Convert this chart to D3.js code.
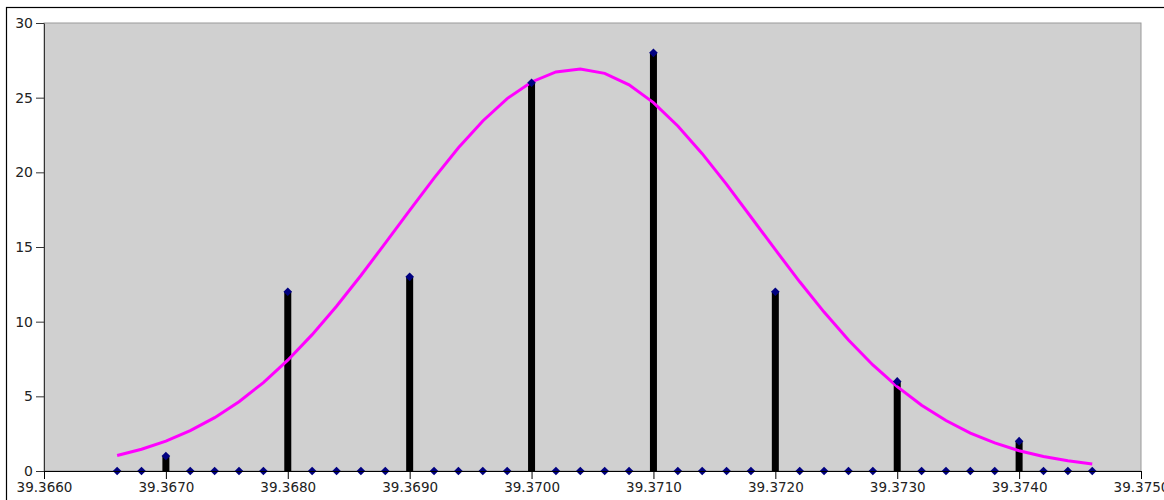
<!DOCTYPE html>
<html><head><meta charset="utf-8">
<script src="https://cdn.jsdelivr.net/npm/d3@7"></script>
<style>html,body{margin:0;padding:0;background:#fff;}svg{display:block;font-family:"DejaVu Sans",sans-serif;}</style>
</head><body><svg id="c" width="1164" height="500"></svg>
<script>
// Data
const xTicks = [39.3660,39.3670,39.3680,39.3690,39.3700,39.3710,39.3720,39.3730,39.3740,39.3750];
const yTicks = [0,5,10,15,20,25,30];
const binX = [39.3666,39.3668,39.3670,39.3672,39.3674,39.3676,39.3678,39.3680,39.3682,39.3684,39.3686,39.3688,39.3690,39.3692,39.3694,39.3696,39.3698,39.3700,39.3702,39.3704,39.3706,39.3708,39.3710,39.3712,39.3714,39.3716,39.3718,39.3720,39.3722,39.3724,39.3726,39.3728,39.3730,39.3732,39.3734,39.3736,39.3738,39.3740,39.3742,39.3744,39.3746];
const counts = [0,0,1,0,0,0,0,12,0,0,0,0,13,0,0,0,0,26,0,0,0,0,28,0,0,0,0,12,0,0,0,0,6,0,0,0,0,2,0,0,0];
const curve = [1.04,1.46,2.00,2.70,3.57,4.64,5.92,7.42,9.13,11.03,13.09,15.26,17.45,19.61,21.64,23.44,24.94,26.05,26.72,26.92,26.63,25.86,24.67,23.10,21.25,19.19,17.01,14.82,12.67,10.64,8.77,7.10,5.65,4.41,3.38,2.54,1.88,1.36,0.97,0.68,0.47];

const svg = d3.select("#c");
const L = 44, R = 1141, T = 23, B = 471;
const x = d3.scaleLinear().domain([39.3660, 39.3750]).range([L, R]);
const y = d3.scaleLinear().domain([0, 30]).range([B, T]);

// outer frame
svg.append("rect").attr("x",6.5).attr("y",7.5).attr("width",1170).attr("height",510)
  .attr("fill","none").attr("stroke","#000").attr("stroke-width",1.2);

// plot area
svg.append("rect").attr("x",L).attr("y",T).attr("width",R-L).attr("height",B-T)
  .attr("fill","#d0d0d0").attr("stroke","#9a9a9a").attr("stroke-width",1);

// bars
svg.append("g").selectAll("rect").data(binX.map((v,i)=>({x:v,c:counts[i]})).filter(d=>d.c>0))
  .join("rect")
  .attr("x",d=>x(d.x)-3.5).attr("width",7)
  .attr("y",d=>y(d.c)).attr("height",d=>y(0)-y(d.c))
  .attr("fill","#000");

// curve
svg.append("path").datum(binX.map((v,i)=>[v,curve[i]]))
  .attr("d", d3.line().x(d=>x(d[0])).y(d=>y(d[1])))
  .attr("fill","none").attr("stroke","#ff00ff").attr("stroke-width",3);

// markers (diamonds)
const h = 4.3;
svg.append("g").selectAll("path").data(binX.map((v,i)=>({x:v,c:counts[i]})))
  .join("path")
  .attr("d", `M0,${-h}L${h},0L0,${h}L${-h},0Z`)
  .attr("transform",d=>`translate(${x(d.x)},${y(d.c)})`)
  .attr("fill","#000080");

// axes
const yAxis = svg.append("g").attr("transform",`translate(${L},0)`)
  .call(d3.axisLeft(y).tickValues(yTicks).tickSize(8).tickSizeOuter(0).tickPadding(3));
yAxis.select(".domain").attr("stroke","#333");
yAxis.selectAll(".tick line").attr("stroke","#333");
yAxis.selectAll("text").attr("font-size","14px").attr("fill","#222").attr("font-family","DejaVu Sans");

const xAxis = svg.append("g").attr("transform",`translate(0,${B})`)
  .call(d3.axisBottom(x).tickValues(xTicks).tickFormat(d3.format(".4f")).tickSize(8).tickSizeOuter(0).tickPadding(3));
xAxis.select(".domain").attr("stroke","#000");
xAxis.selectAll(".tick line").attr("stroke","#000");
xAxis.selectAll("text").attr("font-size","13.5px").attr("fill","#222").attr("font-family","DejaVu Sans");
</script></body></html>
